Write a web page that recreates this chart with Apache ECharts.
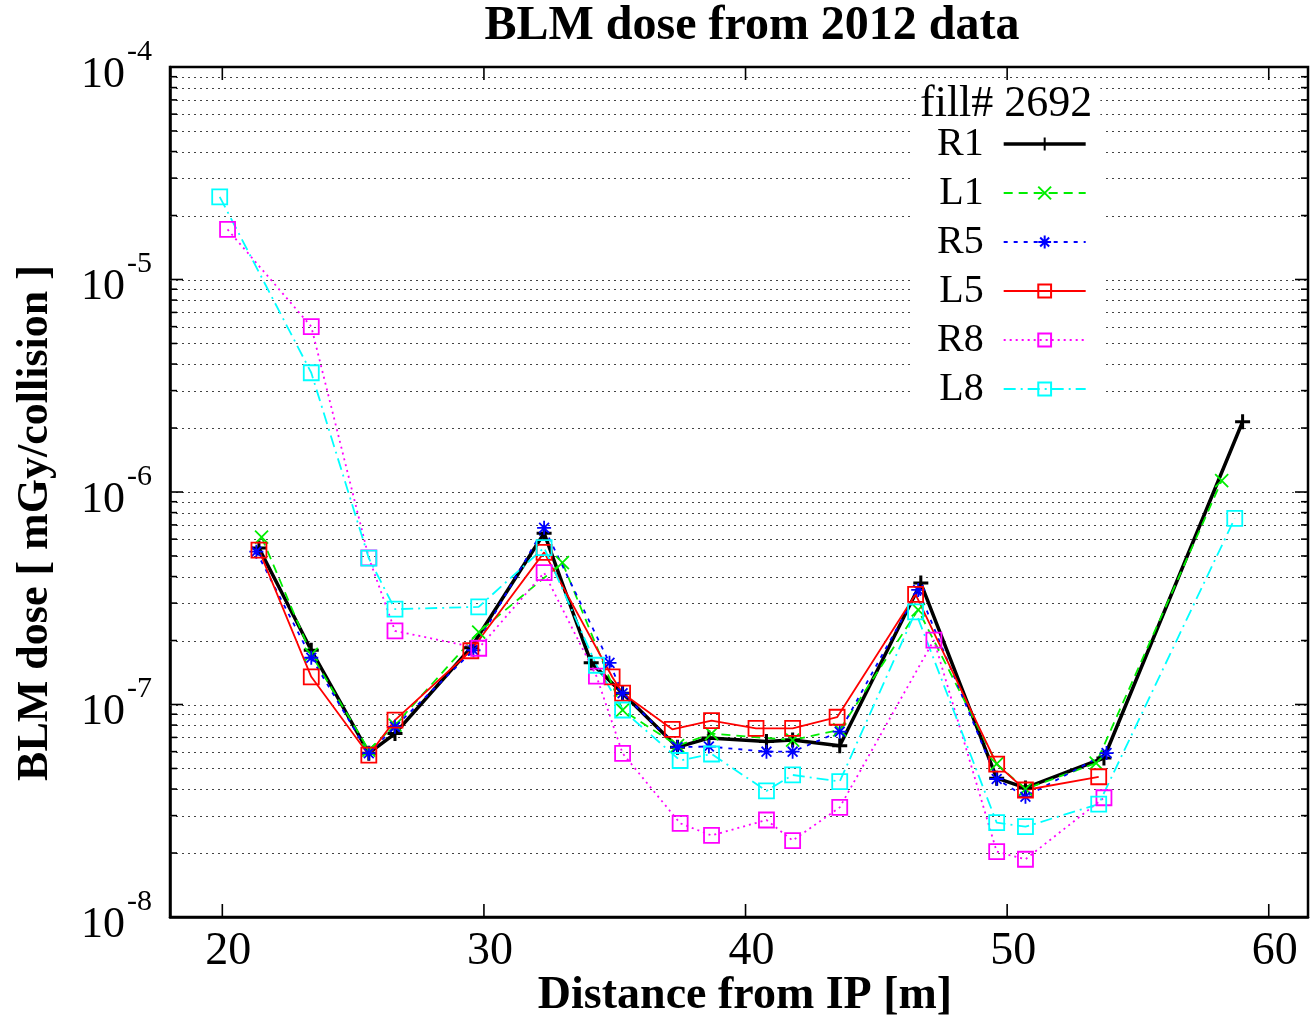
<!DOCTYPE html>
<html>
<head>
<meta charset="utf-8">
<script src="https://cdn.jsdelivr.net/npm/echarts@6/dist/echarts.min.js"></script>
<style>
  html, body { margin: 0; padding: 0; background: #fff; }
  #chart { width: 1310px; height: 1015px; }
</style>
</head>
<body>
<div id="chart"></div>
<script>
// distance from IP [m] and dose [mGy/collision]
var r1X = [21.4, 23.4, 25.6, 26.6, 29.5, 32.3, 34.1, 35.3, 37.4, 38.6, 40.8, 41.8, 43.6, 46.7, 49.6, 50.7, 53.7, 59.0];
var r1Y = [5.45e-7, 1.80e-7, 5.9e-8, 7.3e-8, 1.85e-7, 6.4e-7, 1.57e-7, 1.13e-7, 6.3e-8, 6.95e-8, 6.7e-8, 6.8e-8, 6.4e-8, 3.73e-7, 4.5e-8, 4.05e-8, 5.6e-8, 2.14e-6];

var l1X = [21.5, 23.4, 25.6, 26.6, 29.8, 33.0, 35.3, 37.4, 38.7, 41.8, 43.6, 46.6, 49.6, 50.7, 53.4, 58.2];
var l1Y = [6.14e-7, 1.72e-7, 6.1e-8, 8.0e-8, 2.19e-7, 4.65e-7, 9.4e-8, 6.4e-8, 7.3e-8, 6.8e-8, 7.6e-8, 2.79e-7, 5.25e-8, 4.0e-8, 5.3e-8, 1.13e-6];

var r5X = [21.3, 23.4, 25.6, 26.6, 29.6, 32.3, 34.8, 35.3, 37.4, 38.6, 40.8, 41.8, 43.6, 46.6, 49.6, 50.7, 53.8];
var r5Y = [5.24e-7, 1.66e-7, 5.9e-8, 7.85e-8, 1.8e-7, 6.78e-7, 1.57e-7, 1.13e-7, 6.3e-8, 6.34e-8, 6.0e-8, 6.0e-8, 7.45e-8, 3.46e-7, 4.46e-8, 3.68e-8, 5.91e-8];

var l5X = [21.4, 23.4, 25.6, 26.6, 29.5, 32.3, 34.9, 35.3, 37.2, 38.7, 40.4, 41.8, 43.5, 46.5, 49.6, 50.7, 53.5];
var l5Y = [5.33e-7, 1.35e-7, 5.78e-8, 8.45e-8, 1.79e-7, 5.2e-7, 1.35e-7, 1.13e-7, 7.64e-8, 8.4e-8, 7.72e-8, 7.72e-8, 8.71e-8, 3.3e-7, 5.24e-8, 3.96e-8, 4.57e-8];

var r8X = [20.2, 23.4, 25.6, 26.6, 29.8, 32.3, 34.3, 35.3, 37.5, 38.7, 40.8, 41.8, 43.6, 47.2, 49.6, 50.7, 53.7];
var r8Y = [1.72e-5, 6.0e-6, 4.9e-7, 2.22e-7, 1.84e-7, 4.17e-7, 1.36e-7, 5.89e-8, 2.76e-8, 2.42e-8, 2.86e-8, 2.29e-8, 3.28e-8, 2.01e-7, 2.03e-8, 1.87e-8, 3.64e-8];

var l8X = [19.9, 23.4, 25.6, 26.6, 29.8, 32.3, 34.3, 35.3, 37.5, 38.7, 40.8, 41.8, 43.6, 46.5, 49.6, 50.7, 53.5, 58.7];
var l8Y = [2.45e-5, 3.64e-6, 4.88e-7, 2.81e-7, 2.88e-7, 5.47e-7, 1.53e-7, 9.42e-8, 5.45e-8, 5.85e-8, 3.92e-8, 4.66e-8, 4.34e-8, 2.73e-7, 2.78e-8, 2.66e-8, 3.4e-8, 7.51e-7];

var xTicks = [20, 30, 40, 50, 60];
var decades = [1e-8, 1e-7, 1e-6, 1e-5, 1e-4];
var minorMult = [2, 3, 4, 5, 6, 7, 8, 9];

var FONT = 'Liberation Serif';

function zip(xs, ys) {
  return xs.map(function (x, i) { return [x, ys[i]]; });
}

// minor tick values 2..9 x each decade
var minorVals = [];
decades.slice(0, 4).forEach(function (d) {
  minorMult.forEach(function (m) { minorVals.push(m * d); });
});
var gridVals = minorVals.concat(decades.slice(1, 4));

var log10 = function (v) { return Math.log(v) / Math.LN10; };

var SYM = {
  plus: 'path://M5,0V10M0,5H10',
  cross: 'path://M0,0L10,10M10,0L0,10',
  star: 'path://M5,0V10M0,5H10M1.5,1.5L8.5,8.5M8.5,1.5L1.5,8.5',
  box: 'path://M0,0H10V10H0Z'
};

function mkSeries(name, xs, ys, color, width, dash, symbol, size) {
  return {
    name: name,
    type: 'line',
    data: zip(xs, ys),
    symbol: symbol,
    symbolSize: size,
    symbolKeepAspect: true,
    showAllSymbol: true,
    lineStyle: { color: color, width: width, type: dash },
    itemStyle: { color: 'rgba(0,0,0,0)', borderColor: color, borderWidth: symbol === SYM.plus ? 3 : 1.8 },
    emphasis: { disabled: true },
    z: 3
  };
}

var chart = echarts.init(document.getElementById('chart'));

chart.setOption({
  backgroundColor: '#fff',
  animation: false,
  title: [
    {
      text: 'BLM dose from 2012 data',
      left: 747, top: -2, textAlign: 'center',
      textStyle: { fontFamily: FONT, fontWeight: 'bold', fontSize: 48, color: '#000' }
    },
    {
      text: 'fill# 2692',
      left: 916, top: 80,
      backgroundColor: '#fff',
      padding: [2, 8, 2, 4],
      textStyle: { fontFamily: FONT, fontWeight: 'normal', fontSize: 44, color: '#000' },
      z: 10
    }
  ],
  legend: {
    orient: 'vertical',
    align: 'right',
    left: 910, top: 124,
    itemWidth: 82, itemHeight: 16,
    itemGap: 9,
    backgroundColor: '#fff',
    padding: [0, 16, 0, 27],
    textStyle: { fontFamily: FONT, fontSize: 40, color: '#000', padding: [0, 15, 0, 0] },
    data: [
      { name: 'R1', lineStyle: { width: 3.5 } },
      'L1', 'R5', 'L5', 'R8', 'L8'
    ],
    selectedMode: false,
    z: 9
  },
  grid: {
    left: 170, right: 2, top: 67, bottom: 98, containLabel: false, outerBoundsMode: 'none',
    show: true, borderColor: '#000', borderWidth: 2.5, backgroundColor: 'transparent'
  },
  xAxis: {
    type: 'value', min: 18, max: 61.5, position: 'bottom',
    name: 'Distance from IP [m]', nameLocation: 'middle', nameGap: 56, nameMoveOverlap: false,
    nameTextStyle: { fontFamily: FONT, fontWeight: 'bold', fontSize: 46, color: '#000', padding: [0, 0, 0, 12] },
    axisLine: { show: true, onZero: false, lineStyle: { color: '#000', width: 2.5 } },
    axisTick: { show: false },
    axisLabel: { customValues: xTicks, margin: 12, fontFamily: FONT, fontSize: 46, color: '#000', padding: [0, 0, 0, 12] },
    splitLine: { show: false }
  },
  yAxis: {
    type: 'log', logBase: 10, min: 1e-8, max: 1e-4, position: 'left',
    name: 'BLM dose [ mGy/collision ]', nameLocation: 'middle', nameGap: 112, nameRotate: 90, nameMoveOverlap: false,
    nameTextStyle: { fontFamily: FONT, fontWeight: 'bold', fontSize: 44, color: '#000', padding: [0, 62, 0, 0] },
    axisLine: { show: true, onZero: false, lineStyle: { color: '#000', width: 2.5 } },
    axisTick: { show: false },
    axisLabel: {
      margin: 18,
      formatter: function (v) {
        return '{b|10}{s|' + Math.round(log10(v)) + '}';
      },
      rich: {
        b: { fontFamily: FONT, fontSize: 44, color: '#000', padding: [16, 0, 0, 0] },
        s: { fontFamily: FONT, fontSize: 30, color: '#000', verticalAlign: 'top', padding: [0, 0, 0, 2] }
      }
    },
    splitLine: { show: false }
  },
  series: [
    mkSeries('R1', r1X, r1Y, '#000000', 3.5, 'solid', SYM.plus, 15),
    mkSeries('L1', l1X, l1Y, '#00ee00', 1.8, [9, 6], SYM.cross, 13),
    mkSeries('R5', r5X, r5Y, '#0000ff', 1.8, [4, 6], SYM.star, 14),
    mkSeries('L5', l5X, l5Y, '#ff0000', 1.8, 'solid', SYM.box, 15),
    mkSeries('R8', r8X, r8Y, '#ff00ff', 1.8, [2, 4], SYM.box, 15),
    mkSeries('L8', l8X, l8Y, '#00ffff', 1.8, [12, 5, 2, 5], SYM.box, 15)
  ]
});

// dotted grid and inward ticks on all four sides, placed through the axes' own scales
var gx0 = chart.convertToPixel({ xAxisIndex: 0 }, 18);
var gx1 = chart.convertToPixel({ xAxisIndex: 0 }, 61.5);
var gy0 = chart.convertToPixel({ yAxisIndex: 0 }, 1e-4);
var gy1 = chart.convertToPixel({ yAxisIndex: 0 }, 1e-8);
var els = [];
function seg(x1, y1, x2, y2, style, z) {
  els.push({
    type: 'line', silent: true, z: z,
    shape: { x1: x1, y1: y1, x2: x2, y2: y2 },
    style: style
  });
}
var tickStyle = { stroke: '#000', lineWidth: 1.6 };
var gridStyle = { stroke: '#444', lineWidth: 1, lineDash: [2, 4] };
gridVals.forEach(function (v) {
  var py = Math.round(chart.convertToPixel({ yAxisIndex: 0 }, v)) + 0.5;
  seg(gx0, py, gx1, py, gridStyle, 1);
});
xTicks.forEach(function (v) {
  var px = chart.convertToPixel({ xAxisIndex: 0 }, v);
  seg(px, gy1, px, gy1 - 13, tickStyle, 20);
  seg(px, gy0, px, gy0 + 13, tickStyle, 20);
});
decades.forEach(function (v) {
  var py = chart.convertToPixel({ yAxisIndex: 0 }, v);
  seg(gx0, py, gx0 + 13, py, tickStyle, 20);
  seg(gx1, py, gx1 - 13, py, tickStyle, 20);
});
minorVals.forEach(function (v) {
  var py = chart.convertToPixel({ yAxisIndex: 0 }, v);
  seg(gx0, py, gx0 + 7, py, tickStyle, 20);
  seg(gx1, py, gx1 - 7, py, tickStyle, 20);
});
chart.setOption({ graphic: els });
</script>
</body>
</html>
